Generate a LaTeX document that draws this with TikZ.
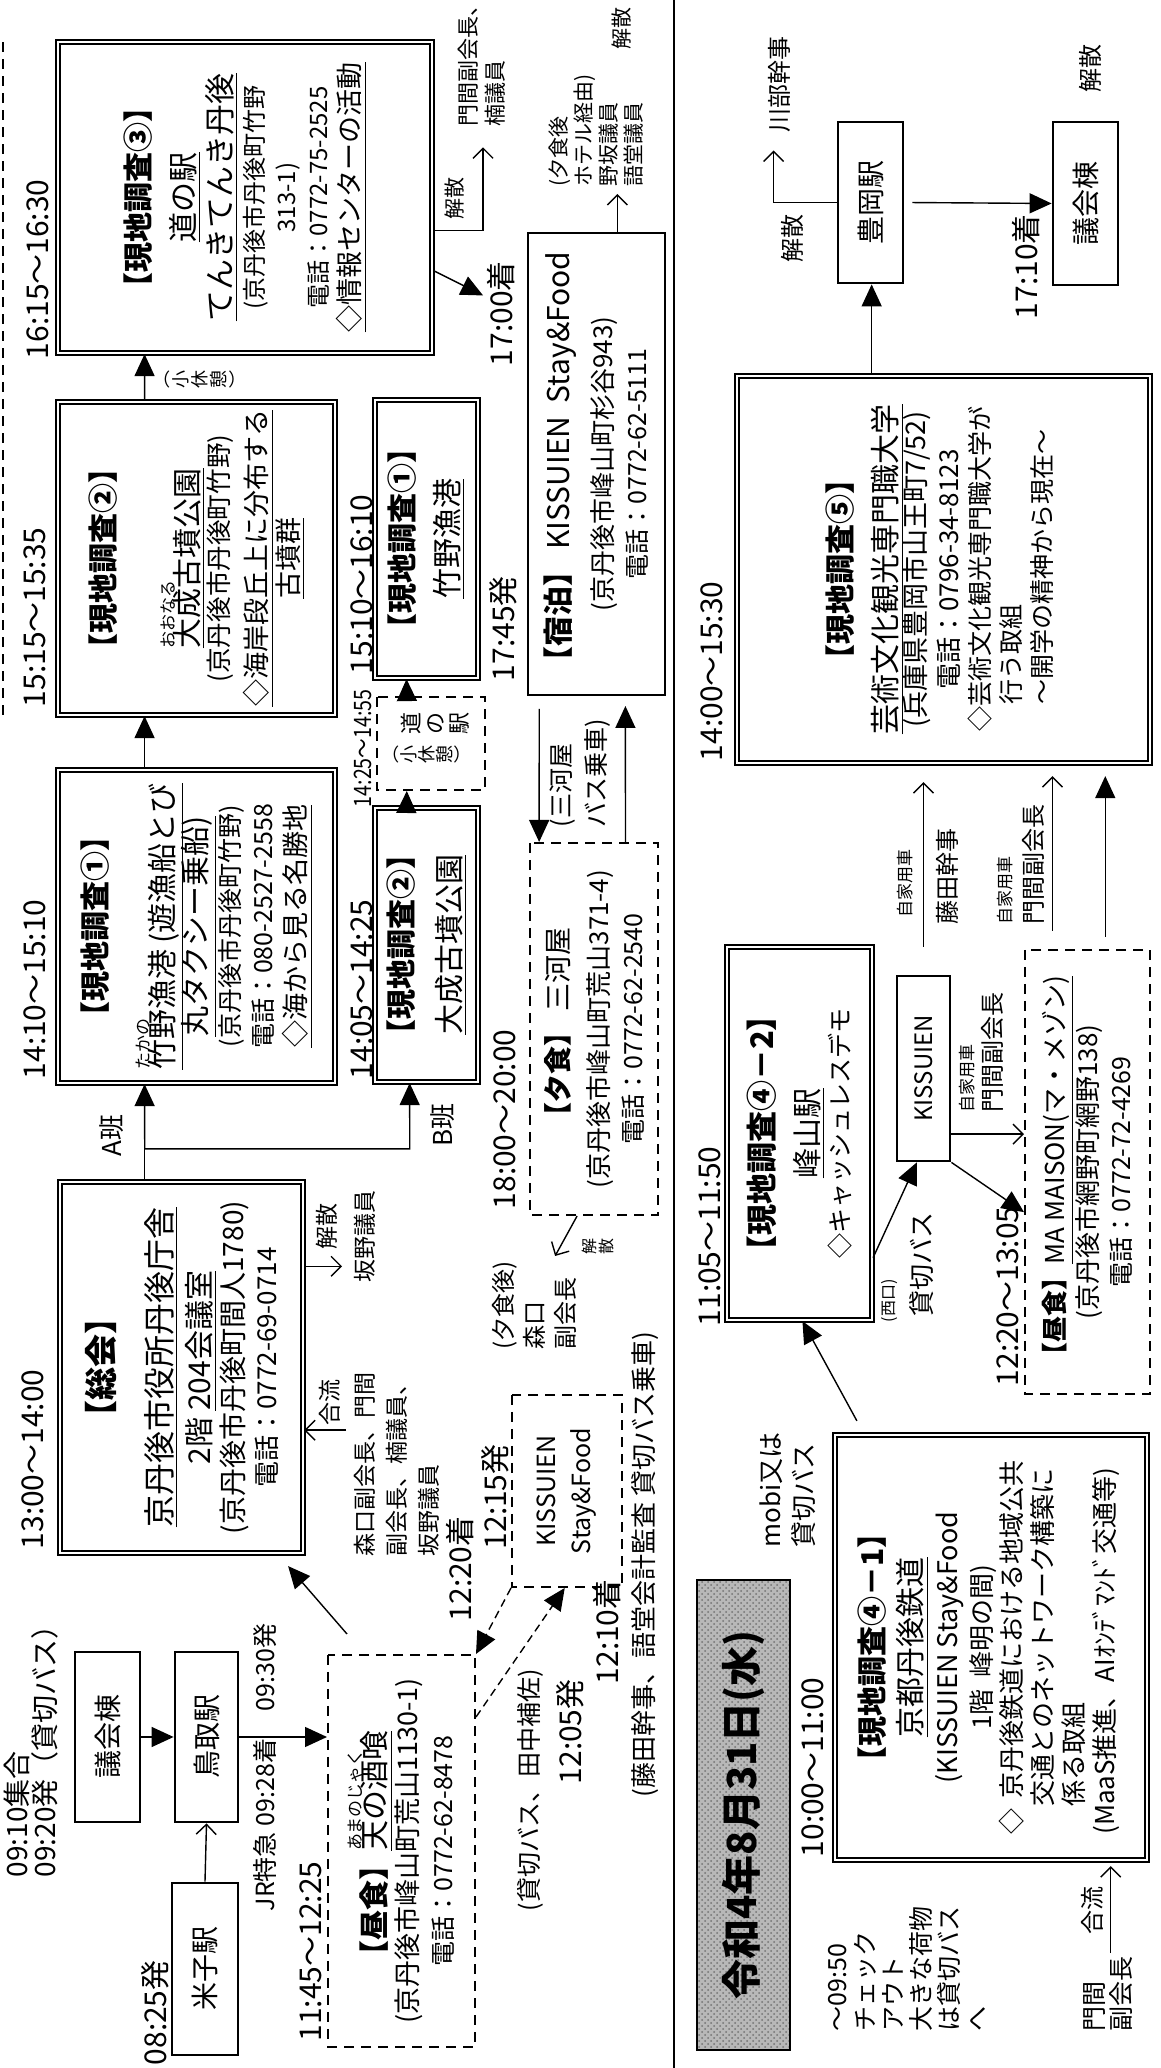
\documentclass[tikz,border=0pt]{standalone}
\usepackage{graphicx}
\usepackage{fontspec}
\setmainfont{Noto Sans CJK JP}
\usetikzlibrary{arrows.meta,calc,patterns}
\lineskiplimit=-100pt
\newcommand{\jhead}{\fontsize{15}{17}\selectfont\bfseries}
\newcommand{\jname}{\fontsize{15}{17}\selectfont}
\newcommand{\jnote}{\fontsize{13.5}{16}\selectfont}
\newcommand{\jruby}{\fontsize{8.5}{9}\selectfont}
\newcommand{\furi}[1]{\rlap{\raisebox{0.8em}{\jruby #1}}}
\newcommand{\jlist}[1]{{\lineskiplimit=0pt\begin{tabular}[t]{@{}l@{}}#1\end{tabular}}}

\begin{document}
\begin{tikzpicture}[x=0.5pt, y=0.5pt, rotate=90, transform shape,
  line width=0.7pt,
  dbox/.style={draw, double, line width=1.1pt, double distance=1.2pt, align=center, inner sep=0pt},
  sbox/.style={draw, line width=1.4pt, align=center, inner sep=0pt, font=\fontsize{14}{16}\selectfont},
  dashbox/.style={draw, line width=1pt, dash pattern=on 5pt off 3.5pt, align=center, inner sep=0pt},
  tm/.style={anchor=west, inner sep=0pt, font=\fontsize{15}{17}\selectfont},
  lbl/.style={anchor=west, inner sep=0pt, align=left, font=\fontsize{12}{15}\selectfont},
  tiny/.style={anchor=west, inner sep=0pt, font=\fontsize{8.5}{10}\selectfont},
  tate/.style={inner sep=0pt, align=center},
  farr/.style={-{Triangle[length=11pt,width=10pt]}},
  oarr/.style={-{Straight Barb[length=5pt,width=10pt]}},
  dasharr/.style={dash pattern=on 4pt off 2.5pt}
]
\fill[white] (0,0) rectangle (2068,-1161);
\useasboundingbox (0,0) rectangle (2068,-1161);

% ---------- 1日目 ----------
\node[sbox, minimum width=86pt, minimum height=33pt] (yonago) at (99,-205) {米子駅};
\node[sbox, minimum width=85pt, minimum height=32.5pt] (gikai1) at (331,-107.5) {議会棟};
\node[sbox, minimum width=85pt, minimum height=31.5pt] (tottori) at (331,-206.5) {鳥取駅};

\node[dashbox, minimum width=196pt, minimum height=73.5pt, font=\fontsize{13.5}{16}\selectfont] (amano) at (217,-401.5)
  {{\jname\textbf{【昼食】}\underline{\furi{あまのじゃく}天の酒喰}}\\
   (京丹後市峰山町荒山1130-1)\\[1.5pt]
   {\fontsize{12.5}{14}\selectfont 電話：0772-62-8478}};

\node[dbox, minimum width=185.5pt, minimum height=121.5pt, font=\fontsize{13}{16.5}\selectfont] (sokai) at (700.5,-181.5)
  {{\fontsize{16.5}{18}\selectfont\bfseries 【総会】}\\[12.5pt]
   {\fontsize{16}{18}\selectfont\underline{京丹後市役所丹後庁舎}}\\[3pt]
   {\fontsize{15}{18}\selectfont 2階 \underline{204会議室}}\\
   {\fontsize{14}{16}\selectfont (京丹後市丹後町間人1780)}\\
   電話：0772-69-0714};

\node[dashbox, minimum width=96pt, minimum height=55pt, font=\fontsize{12.5}{17.5}\selectfont] (kissuien1) at (577,-567)
  {KISSUIEN\\Stay\&Food};

\node[dbox, minimum width=156.5pt, minimum height=138.5pt, font=\fontsize{12.5}{16.5}\selectfont] (genchiA) at (1141.5,-196.5)
  {{\jhead 【現地調査①】}\\[17pt]
   {\jname\underline{\furi{たかの}竹野漁港 (遊漁船とび}}\\
   {\jname\underline{丸タクシー乗船)}}\\
   (京丹後市丹後町竹野)\\
   電話：080-2527-2558\\
   {\jnote\underline{◇海から見る名勝地}}};

\node[dbox, minimum width=137pt, minimum height=51.5pt, font=\fontsize{12.5}{17}\selectfont] (genchiB) at (1123,-426.5)
  {{\jhead 【現地調査②】}\\[7pt]
   {\jname\underline{大成古墳公園}}};

\node[dashbox, minimum width=186pt, minimum height=64pt, font=\fontsize{13}{17}\selectfont] (yushoku) at (1039,-594)
  {{\fontsize{14}{16}\selectfont\textbf{【夕食】} 三河屋}\\[3pt]
   (京丹後市峰山町荒山371-4)\\
   {\fontsize{12.5}{14}\selectfont 電話：0772-62-2540}};

\node[dashbox, minimum width=46.5pt, minimum height=54pt] (michinoeki) at (1324.5,-431) {};
\node[tate, anchor=south, font=\fontsize{11}{12}\selectfont] (michi) at (1344.5,-470) {道\\の\\駅};
\node[tate, anchor=south, font=\fontsize{9}{9}\selectfont] (kyukei) at (1313,-470) {︵\\小\\休\\憩\\︶};

\node[dbox, minimum width=156.5pt, minimum height=138.5pt, font=\fontsize{12.5}{16}\selectfont] (genchiA2) at (1509.5,-196.5)
  {{\jhead 【現地調査②】}\\[26pt]
   {\jname\underline{\furi{おおなる}大成古墳公園}}\\[-1pt]
   {\fontsize{12.8}{15}\selectfont (京丹後市丹後町竹野)}\\[3pt]
   {\jnote\underline{◇海岸段丘上に分布する}}\\
   {\jnote\underline{古墳群}}};

\node[dbox, minimum width=139pt, minimum height=51.5pt, font=\fontsize{12.5}{16}\selectfont] (genchiB2) at (1529,-426.5)
  {{\jhead 【現地調査①】}\\[6.5pt]
   {\jname\underline{竹野漁港}}};

\node[draw, line width=1pt, align=center, inner sep=0pt, minimum width=231pt, minimum height=68.5pt, font=\fontsize{13}{17}\selectfont] (shukuhaku) at (1604,-596.5)
  {{\jname\textbf{【宿泊】} KISSUIEN\ \ Stay\&Food}\\[4.5pt]
   (京丹後市峰山町杉谷943)\\
   {\fontsize{12.5}{14}\selectfont 電話：0772-62-5111}};

\node[dbox, minimum width=155.5pt, minimum height=187pt, font=\fontsize{12}{16}\selectfont] (genchi3) at (1870.5,-245)
  {{\jhead 【現地調査③】}\\[6.5pt]
   {\jname\underline{道の駅}}\\[2.5pt]
   {\fontsize{15.5}{17}\selectfont\underline{てんきてんき丹後}}\\
   (京丹後市丹後町竹野\\
   313-1)\\
   電話：0772-75-2525\\
   {\jnote\underline{◇情報センターの活動}}};

% 時刻・添え書き
\node[tm, align=left, font=\fontsize{14}{14}\selectfont] (t0910) at (190,-31) {09:10集合\\09:20発（貸切バス）};
\node[tm] (t0825) at (2,-155) {08:25発};
\node[tm, font=\fontsize{12.5}{15}\selectfont] (tjr) at (156,-265) {JR特急 09:28着};
\node[tm, font=\fontsize{12.5}{15}\selectfont] (t0930) at (356,-265) {09:30発};
\node[tm] (t1145) at (26,-311) {11:45〜12:25};
\node[tm] (t1300) at (518,-33) {13:00〜14:00};
\node[tm] (t1220) at (446,-460) {12:20着};
\node[tm] (t1215) at (518,-495) {12:15発};
\node[tm] (t1205) at (283,-570) {12:05発};
\node[tm] (t1210) at (383,-607) {12:10着};
\node[lbl, font=\fontsize{12.5}{15}\selectfont] (tbus1) at (156,-530) {(貸切バス、田中補佐)};
\node[lbl, font=\fontsize{13}{15}\selectfont] (tfujita) at (270,-645) {(藤田幹事、語堂会計監査\ 貸切バス乗車)};
\node[lbl, font=\fontsize{11.5}{16}\selectfont] (tmembers) at (511,-397) {森口副会長、門間\\副会長、楠議員、\\坂野議員};
\node[lbl, font=\fontsize{11.5}{14}\selectfont] (tgoryu1) at (642,-330) {合流};
\node[lbl, font=\fontsize{11.5}{14}\selectfont] (tkaisan1) at (818,-327) {解散};
\node[lbl, font=\fontsize{11.5}{14}\selectfont] (tsakano) at (785,-365) {坂野議員};
\node[lbl, font=\fontsize{13}{15}\selectfont] (ta) at (911,-112) {A班};
\node[lbl, font=\fontsize{13}{15}\selectfont] (tb) at (921,-443) {B班};
\node[tm] (t1410) at (988,-35) {14:10〜15:10};
\node[tm] (t1405) at (988,-362) {14:05〜14:25};
\node[tm, font=\fontsize{12}{14}\selectfont] (t1425) at (1260,-363) {\scalebox{0.82}[1]{14:25〜14:55}};
\node[tm] (t1515) at (1360,-35) {15:15〜15:35};
\node[tm] (t1510) at (1393,-362) {15:10〜16:10};
\node[tm] (t1615) at (1708,-38) {16:15〜16:30};
\node[tate, font=\fontsize{9}{9.5}\selectfont] (tkyukei) at (1688,-205) {︵\\小\\休\\憩\\︶};
\node[tm] (t1800) at (858,-505) {18:00〜20:00};
\node[lbl, font=\fontsize{12}{15.5}\selectfont] (tafter) at (718,-534) {(夕食後)\\森口\\副会長};
\node[tate, font=\fontsize{8}{8.5}\selectfont] (tkaisan2) at (821,-598) {解\\散};
\node[lbl, font=\fontsize{12.5}{17.5}\selectfont] (tmikawa) at (1240,-580) {(三河屋\\バス乗車)};
\node[tm] (t1745) at (1386,-503) {17:45発};
\node[tm] (t1700) at (1701,-501) {17:00着};
\node[lbl, font=\fontsize{10.5}{13}\selectfont] (tkaisan3) at (1848,-455) {解散};
\node[lbl, font=\fontsize{11}{13.5}\selectfont] (tmonma3) at (1941,-482) {門間副会長、\\楠議員};
\node[lbl, font=\fontsize{10.5}{12.5}\selectfont] (tafter2) at (1881,-596) {(夕食後\\ホテル経由)\\野坂議員\\語堂議員};
\node[lbl, font=\fontsize{10.5}{12.5}\selectfont] (tkaisan4) at (2018,-622) {解散};

% 1日目の矢印
\draw[oarr] (yonago.east) -- (tottori.west);
\draw[farr] (gikai1.south) -- (tottori.north);
\draw[farr] (tottori.south) -- ($(amano.north west)!(tottori.south)!(amano.north east)$);
\draw[farr] ($(amano.north east)+(20,-20)$) -- ($(sokai.south west)+(-12,16)$);
\coordinate (s1) at ($(sokai.north east)!.35!(sokai.south east)$);
\draw (s1) -- ++(32,0) coordinate (split);
\draw[farr] (split) -- ($(genchiA.north west)!.314!(genchiA.south west)$);
\coordinate (tB) at ($(genchiB.north west)!.34!(genchiB.south west)$);
\draw[farr] (split) -- ++(0,-265) -- (tB);
\coordinate (s2) at ($(sokai.south west)!.771!(sokai.south east)$);
\draw[oarr] (s2) -- ++(0,-38);
\coordinate (s3) at ($(sokai.south west)!.332!(sokai.south east)$);
\draw[oarr] (s3) ++(0,-42) -- (s3);
\draw[farr, dasharr] ($(amano.south west)!.84!(amano.south east)$) -- ($(kissuien1.north west)!.48!(kissuien1.south west)$);
\draw[farr, dasharr] (kissuien1.north west) -- (amano.south east);
\draw[farr] ($(genchiA.north east)!.314!(genchiA.south east)$) -- ($(genchiA2.north west)!.314!(genchiA2.south west)$);
\draw[farr] ($(genchiA2.north east)!.314!(genchiA2.south east)$) -- ($(genchi3.north west)!.233!(genchi3.south west)$);
\draw[farr] ($(genchiB.north east)!.31!(genchiB.south east)$) -- ($(michinoeki.north west)!.28!(michinoeki.south west)$);
\draw[farr] ($(michinoeki.north east)!.28!(michinoeki.south east)$) -- ($(genchiB2.north west)!.31!(genchiB2.south west)$);
\draw[farr] ($(shukuhaku.north west)!.088!(shukuhaku.south west)$) ++(-13,0) -- ($(yushoku.north east)!.078!(yushoku.south east)$);
\draw[farr, shorten >=5pt] ($(yushoku.north east)!.742!(yushoku.south east)$) -- ($(shukuhaku.north west)!.708!(shukuhaku.south west)$);
\draw[oarr] ($(yushoku.north west)!.37!(yushoku.south west)$) -- ++(-40,22);
\draw[oarr] ($(genchi3.south west)!.395!(genchi3.south east)$) -- ++(0,-50) -- ++(83,0);
\draw[farr] ($(genchi3.south west)!.267!(genchi3.south east)$) -- ++(-25,-50);
\draw[oarr] ($(shukuhaku.north east)!.65!(shukuhaku.south east)$) -- ++(38,0);

\draw[line width=1pt, dash pattern=on 5pt off 3.5pt] (1353,-3) -- (2028,-3);
\draw[line width=0.8pt] (0,-674) -- (2068,-674);

% ---------- 2日目 ----------
\node[draw, line width=1.2pt, preaction={fill=black!28}, pattern=crosshatch dots, pattern color=black!55,
  minimum width=235pt, minimum height=46.5pt, inner sep=0pt,
  font=\fontsize{20}{22}\selectfont\bfseries] (date) at (253,-743.5) {令和4年8月31日(水)};

\node[dbox, minimum width=212.5pt, minimum height=156pt, font=\fontsize{13}{15}\selectfont] (genchi41) at (420.5,-991)
  {{\jhead 【現地調査④－1】}\\[4pt]
   {\jname\underline{京都丹後鉄道}}\\[3pt]
   {\fontsize{13.5}{15}\selectfont (KISSUIEN\ Stay\&Food}\\[2pt]
   1階\ \ 峰明の間)\\
   \jlist{◇\hspace{0.4em}京丹後鉄道における地域公共\\ \hspace{1.1em}交通とのネットワーク構築に\\ \hspace{1.1em}係る取組\\ (MaaS推進、AIｵﾝﾃﾞﾏﾝﾄﾞ交通等)}};

\node[dbox, minimum width=186.5pt, minimum height=72.5pt, font=\fontsize{12.5}{15.5}\selectfont] (genchi42) at (934.5,-799.5)
  {{\fontsize{15.5}{17}\selectfont\bfseries 【現地調査④－2】}\\[7pt]
   {\jname\underline{峰山駅}}\\
   ◇キャッシュレスデモ};

\node[sbox, minimum width=92.5pt, minimum height=26.5pt, font=\fontsize{12}{14}\selectfont] (kissuien2) at (999.5,-923.5) {KISSUIEN};

\node[dashbox, minimum width=222pt, minimum height=62.5pt, font=\fontsize{13}{16.5}\selectfont] (mamaison) at (896,-1087.5)
  {{\fontsize{13}{15}\selectfont\textbf{【昼食】}\underline{MA MAISON(マ・メゾン)}}\\
   (京丹後市網野町網野138)\\
   {\fontsize{12.5}{14}\selectfont 電話：0772-72-4269}};

\node[dbox, minimum width=193.5pt, minimum height=206.5pt, font=\fontsize{12.5}{15.5}\selectfont] (genchi5) at (1498.5,-943.5)
  {{\jhead 【現地調査⑤】}\\[7pt]
   {\jname\underline{芸術文化観光専門職大学}}\\[-1pt]
   {\fontsize{13.5}{15}\selectfont (兵庫県豊岡市山王町7/52)}\\[1pt]
   {\fontsize{13}{15}\selectfont 電話：0796-34-8123}\\
   \jlist{◇芸術文化観光専門職大学が\\ \hspace{1.1em}行う取組\\ \hspace{1.1em}〜開学の精神から現在〜}};

\node[sbox, minimum width=80.5pt, minimum height=32.5pt] (toyooka) at (1865.5,-870.5) {豊岡駅};
\node[sbox, minimum width=81.5pt, minimum height=32.5pt] (gikai2) at (1864.5,-1085.5) {議会棟};

\node[lbl, font=\fontsize{12.5}{14}\selectfont] (t0950) at (36,-907) {〜09:50\\チェック\\アウト\\大きな荷物\\は貸切バス\\へ};
\node[lbl, font=\fontsize{12.5}{13.5}\selectfont] (tmonma2) at (36,-1108.5) {門間\\副会長};
\node[lbl, font=\fontsize{12}{14}\selectfont] (tgoryu2) at (133,-1092) {合流};
\node[tm] (t1000) at (210,-813) {10:00〜11:00};
\node[lbl, font=\fontsize{13}{16.5}\selectfont] (tmobi) at (520,-788) {mobi又は\\貸切バス};
\node[tm] (t1105) at (741,-710) {11:05〜11:50};
\node[tiny, font=\fontsize{8}{9}\selectfont] (tnishi) at (745,-890) {(西口)};
\node[lbl, font=\fontsize{13}{15}\selectfont] (tbus2) at (751,-922) {貸切バス};
\node[tm] (t1220b) at (681,-1008) {12:20〜13:05};
\node[tiny] (tcar1) at (955,-967) {自家用車};
\node[lbl] (tmonma4) at (955,-992) {門間副会長};
\node[tiny] (tcar2) at (1150,-905) {自家用車};
\node[lbl] (tfujita2) at (1143,-947) {藤田幹事};
\node[tiny] (tcar3) at (1143,-1005) {自家用車};
\node[lbl] (tmonma5) at (1143,-1033) {門間副会長};
\node[tm] (t1400) at (1306,-712) {14:00〜15:30};
\node[lbl] (tkaisan5) at (1805,-792) {解散};
\node[lbl] (tkawabe) at (1935,-779) {川部幹事};
\node[tm] (t1710) at (1748,-1026) {17:10着};
\node[lbl] (tkaisan6) at (1975,-1090) {解散};

% 2日目の矢印
\coordinate (g2) at ($(genchi41.north west)!.881!(genchi41.south west)$);
\draw[oarr, shorten >=2.5pt] (g2) ++(-92,0) -- (g2);
\draw[farr] ($(genchi41.north east)+(13,-23)$) -- ($(genchi42.north west)!.52!(genchi42.south west)$);
\draw[farr] ($(genchi42.south west)!.169!(genchi42.south east)$) -- ($(kissuien2.north west)!.38!(kissuien2.south west)$);
\draw[farr] (kissuien2.south west) -- ($(mamaison.north west)!.41!(mamaison.north east)$);
\coordinate (k1) at ($(kissuien2.south west)!.151!(kissuien2.south east)$);
\draw[oarr] (k1) -- ($(mamaison.north west)!(k1)!(mamaison.north east)$);
\draw[oarr, shorten <=14pt, shorten >=9pt] (kissuien2.east) -- ($(genchi5.north west)!(kissuien2.east)!(genchi5.south west)$);
\coordinate (m1) at ($(mamaison.north east)!.224!(mamaison.south east)$);
\draw[oarr, shorten <=9pt, shorten >=6pt] (m1) -- ($(genchi5.north west)!(m1)!(genchi5.south west)$);
\coordinate (m2) at ($(mamaison.north east)!.64!(mamaison.south east)$);
\draw[farr, shorten <=6pt, shorten >=6pt] (m2) -- ($(genchi5.north west)!(m2)!(genchi5.south west)$);
\coordinate (f1) at ($(genchi5.north east)!.327!(genchi5.south east)$);
\draw[farr] (f1) -- ($(toyooka.north west)!(f1)!(toyooka.south west)$);
\draw[farr, shorten <=4pt] (toyooka.south) -- (gikai2.north);
\draw[oarr] (toyooka.north) -- ++(0,63) -- ++(52,0);
\end{tikzpicture}
\end{document}
